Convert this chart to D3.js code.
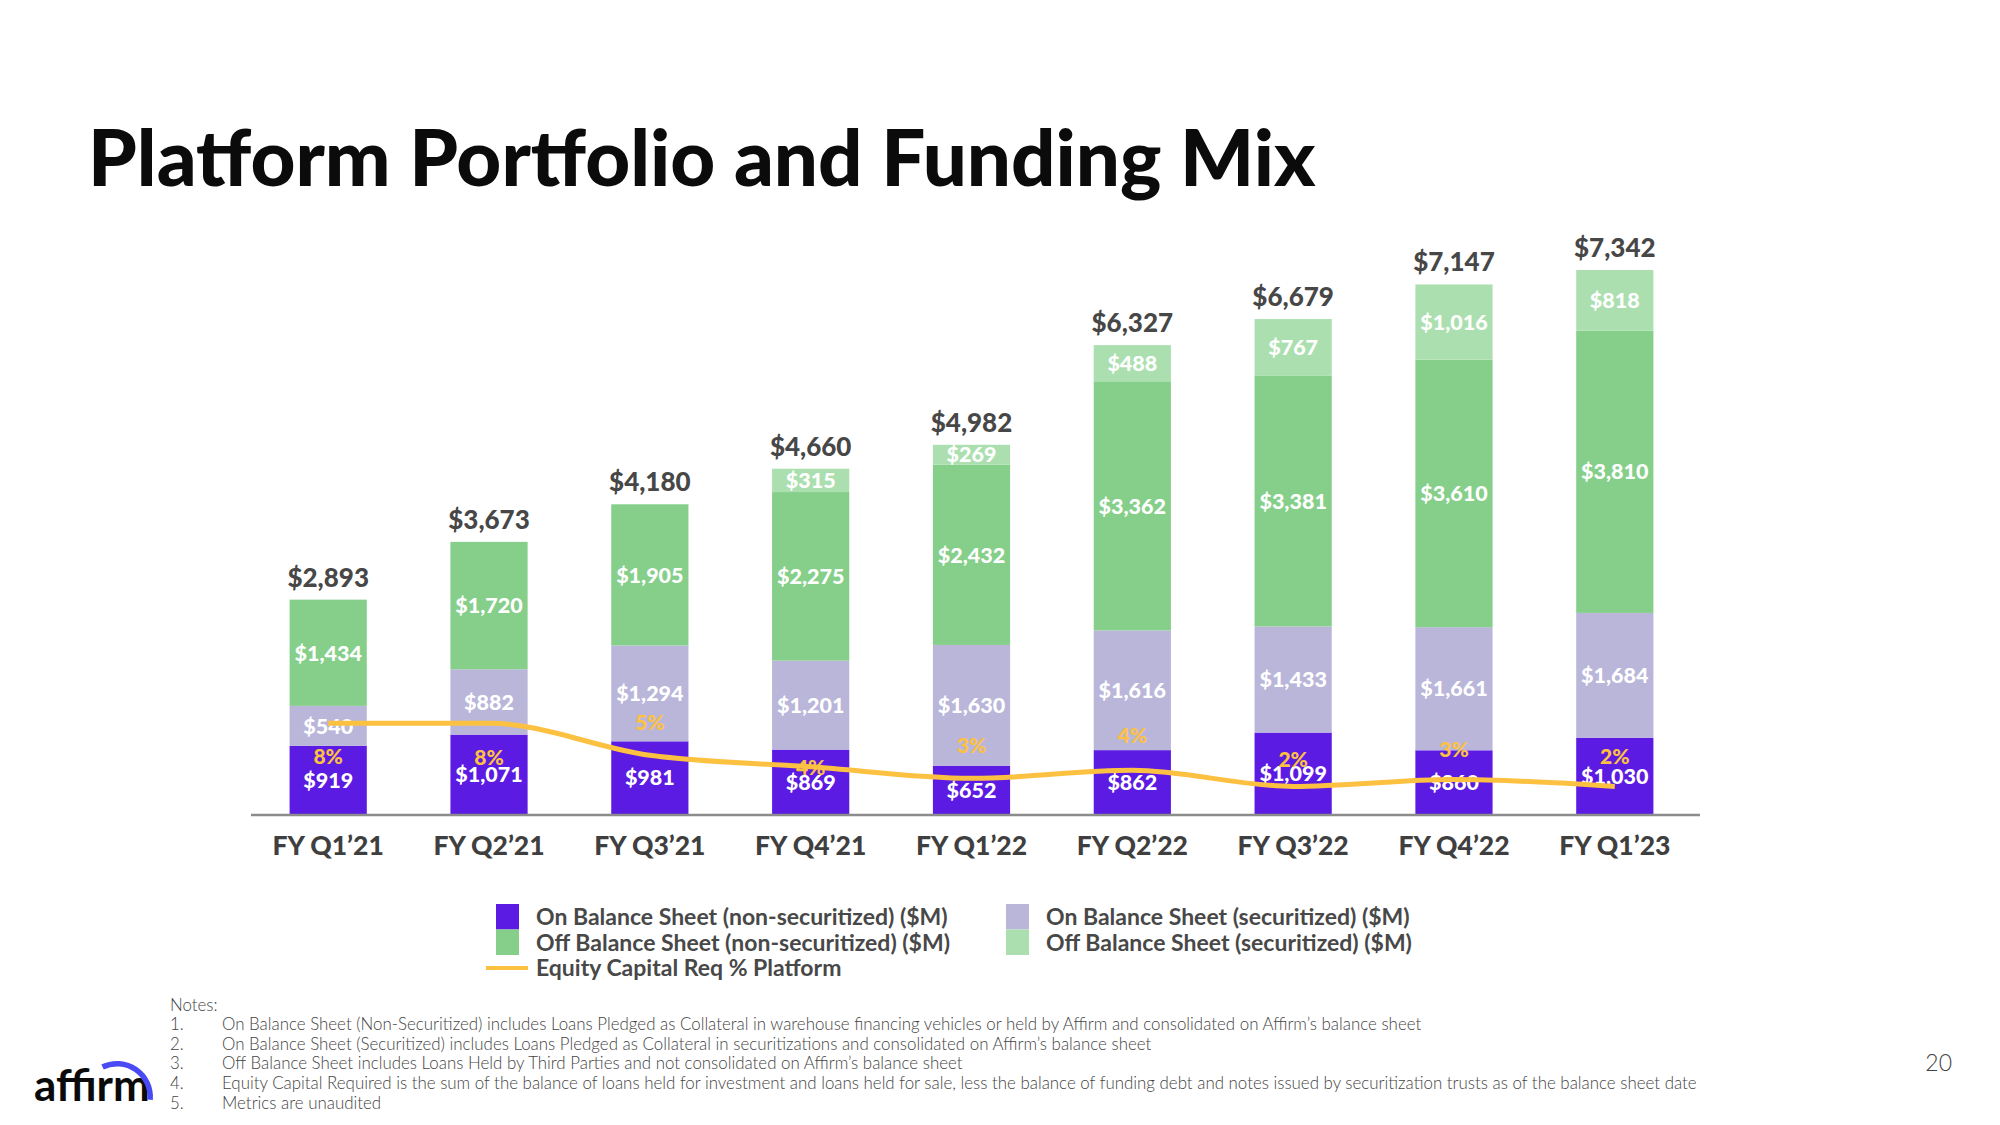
<!doctype html>
<html lang="en">
<head>
<meta charset="UTF-8">
<title>Platform Portfolio and Funding Mix</title>
<style>
  html, body { margin: 0; padding: 0; background: #fff; }
  svg text { font-family: "Lato", "Open Sans", sans-serif; }
</style>
</head>
<body>
<svg id="chart" width="2000" height="1125"></svg>
<script src="https://cdn.jsdelivr.net/npm/d3@7/dist/d3.min.js"></script>
<script>
    // data ($M)
    const categories = ["FY Q1’21", "FY Q2’21", "FY Q3’21", "FY Q4’21", "FY Q1’22",
        "FY Q2’22", "FY Q3’22", "FY Q4’22", "FY Q1’23"];
    const onNonSec = [919, 1071, 981, 869, 652, 862, 1099, 860, 1030];
    const onSec = [540, 882, 1294, 1201, 1630, 1616, 1433, 1661, 1684];
    const offNonSec = [1434, 1720, 1905, 2275, 2432, 3362, 3381, 3610, 3810];
    const offSec = [0, 0, 0, 315, 269, 488, 767, 1016, 818];
    const totals = [2893, 3673, 4180, 4660, 4982, 6327, 6679, 7147, 7342];
    const equityPct = [7.9, 7.9, 5.1, 4.1, 3.1, 3.8, 2.4, 3.0, 2.4];

    const seriesKeys = ["onNonSec", "onSec", "offNonSec", "offSec"];
    const seriesNames = ["On Balance Sheet (non-securitized) ($M)", "On Balance Sheet (securitized) ($M)",
        "Off Balance Sheet (non-securitized) ($M)", "Off Balance Sheet (securitized) ($M)"];
    const lineName = "Equity Capital Req % Platform";
    const notes = [
        "On Balance Sheet (Non-Securitized) includes Loans Pledged as Collateral in warehouse financing vehicles or held by Affirm and consolidated on Affirm’s balance sheet",
        "On Balance Sheet (Securitized) includes Loans Pledged as Collateral in securitizations and consolidated on Affirm’s balance sheet",
        "Off Balance Sheet includes Loans Held by Third Parties and not consolidated on Affirm’s balance sheet",
        "Equity Capital Required is the sum of the balance of loans held for investment and loans held for sale, less the balance of funding debt and notes issued by securitization trusts as of the balance sheet date",
        "Metrics are unaudited"
    ];

    let rows = categories.map((c, i) => ({
        cat: c, onNonSec: onNonSec[i], onSec: onSec[i], offNonSec: offNonSec[i], offSec: offSec[i],
        total: totals[i], pct: equityPct[i]
    }));

    let series = d3.stack().keys(seriesKeys)(rows);

    let svg = d3.select("#chart");
    const baseY = 814;

    let x = d3.scaleBand()
        .domain(categories)
        .range([251, 1692])
        .paddingInner(0.52)
        .paddingOuter(0.24);

    let y = d3.scaleLinear()
        .domain([0, d3.max(totals)])
        .range([baseY, 270]);

    let yPct = d3.scaleLinear()
        .domain([0, 8])
        .range([baseY, baseY - 92]);

    let z = d3.scaleOrdinal()
        .domain(seriesKeys)
        .range(["#5b1be3", "#b9b6da", "#85cf8a", "#acdfb0"]);

    // title
    svg.append("text")
        .attr("x", 88).attr("y", 186)
        .attr("font-size", 78)
        .attr("font-weight", 900)
        .attr("fill", "#0b0b0b")
        .text("Platform Portfolio and Funding Mix");

    // bars
    let layer = svg.append("g")
        .selectAll("g")
        .data(series)
        .enter().append("g")
        .attr("fill", d => z(d.key));

    layer.selectAll("rect")
        .data(d => d)
        .enter().append("rect")
        .attr("x", d => x(d.data.cat))
        .attr("width", x.bandwidth())
        .attr("y", d => y(d[1]))
        .attr("height", d => y(d[0]) - y(d[1]));

    // segment labels
    layer.selectAll("text")
        .data(d => d.filter(p => p[1] - p[0] > 0))
        .enter().append("text")
        .attr("x", d => x(d.data.cat) + x.bandwidth() / 2)
        .attr("y", d => (y(d[0]) + y(d[1])) / 2)
        .attr("dy", "0.36em")
        .attr("text-anchor", "middle")
        .attr("font-size", 21.5)
        .attr("font-weight", 900)
        .attr("fill", "#fff")
        .text(d => "$" + d3.format(",")(d[1] - d[0]));

    // totals
    svg.append("g")
        .selectAll("text")
        .data(rows)
        .enter().append("text")
        .attr("x", d => x(d.cat) + x.bandwidth() / 2)
        .attr("y", d => y(d.total) - 13)
        .attr("text-anchor", "middle")
        .attr("font-size", 26)
        .attr("font-weight", 900)
        .attr("fill", "#474747")
        .text(d => "$" + d3.format(",")(d.total));

    // axis line + categories
    svg.append("line")
        .attr("x1", 251).attr("x2", 1700)
        .attr("y1", baseY + 1).attr("y2", baseY + 1)
        .attr("stroke", "#8c8c8c").attr("stroke-width", 2.5);

    svg.append("g")
        .attr("transform", "translate(0," + baseY + ")")
        .call(d3.axisBottom(x).tickSize(0).tickPadding(22))
        .call(g => g.select(".domain").remove())
        .selectAll("text")
        .attr("font-size", 26.5)
        .attr("font-weight", 900)
        .attr("fill", "#3f3f3f")
        .attr("font-family", "Lato, sans-serif");

    // equity capital line
    let line = d3.line()
        .x(d => x(d.cat) + x.bandwidth() / 2)
        .y(d => yPct(d.pct))
        .curve(d3.curveMonotoneX);

    svg.append("path")
        .datum(rows)
        .attr("fill", "none")
        .attr("stroke", "#fdc142")
        .attr("stroke-width", 5)
        .attr("d", line);

    const pctDy = [33, 34, -33, 1, -33, -35, -27, -30, -30];
    svg.append("g")
        .selectAll("text")
        .data(rows)
        .enter().append("text")
        .attr("x", d => x(d.cat) + x.bandwidth() / 2)
        .attr("y", (d, i) => yPct(d.pct) + pctDy[i])
        .attr("dy", "0.36em")
        .attr("text-anchor", "middle")
        .attr("font-size", 21)
        .attr("font-weight", 900)
        .attr("fill", "#fdc142")
        .text(d => Math.round(d.pct) + "%");

    // legend
    let legend = svg.append("g").attr("font-size", 23).attr("font-weight", 700)
        .attr("fill", "#484848");
    let legendItems = [
        {key: "onNonSec", name: seriesNames[0], x: 496, row: 0},
        {key: "offNonSec", name: seriesNames[2], x: 496, row: 1},
        {key: "onSec", name: seriesNames[1], x: 1006, row: 0},
        {key: "offSec", name: seriesNames[3], x: 1006, row: 1}
    ];
    legendItems.forEach(function (d) {
        legend.append("rect")
            .attr("x", d.x).attr("y", 904 + d.row * 25.5)
            .attr("width", 23).attr("height", 25.5)
            .attr("fill", z(d.key));
        legend.append("text")
            .attr("x", d.x + 40).attr("y", 925 + d.row * 25.5)
            .text(d.name);
    });
    legend.append("line")
        .attr("x1", 486).attr("x2", 528)
        .attr("y1", 968).attr("y2", 968)
        .attr("stroke", "#fdc142").attr("stroke-width", 4);
    legend.append("text")
        .attr("x", 536).attr("y", 976)
        .text(lineName);

    // notes
    let notesG = svg.append("g")
        .attr("font-size", 16.9)
        .attr("font-weight", 300)
        .attr("fill", "#444");
    notesG.append("text").attr("x", 170).attr("y", 1011).text("Notes:");
    notes.forEach(function (n, i) {
        notesG.append("text").attr("x", 170).attr("y", 1030 + i * 19.7).text((i + 1) + ".");
        notesG.append("text").attr("x", 222).attr("y", 1030 + i * 19.7).text(n);
    });

    // page number
    svg.append("text")
        .attr("x", 1952).attr("y", 1071)
        .attr("text-anchor", "end")
        .attr("font-size", 23)
        .attr("font-weight", 300)
        .attr("fill", "#444")
        .text("20");

    // affirm logo
    svg.append("text")
        .attr("x", 34).attr("y", 1101)
        .attr("font-size", 44)
        .attr("font-weight", 700)
        .attr("fill", "#0a0a0a")
        .text("affirm");
    svg.append("path")
        .attr("d", d3.arc()({innerRadius: 30.5, outerRadius: 36, startAngle: -0.45, endAngle: Math.PI / 2 + 0.08}))
        .attr("transform", "translate(117,1097)")
        .attr("fill", "#4a4af4");
</script>
</body>
</html>
